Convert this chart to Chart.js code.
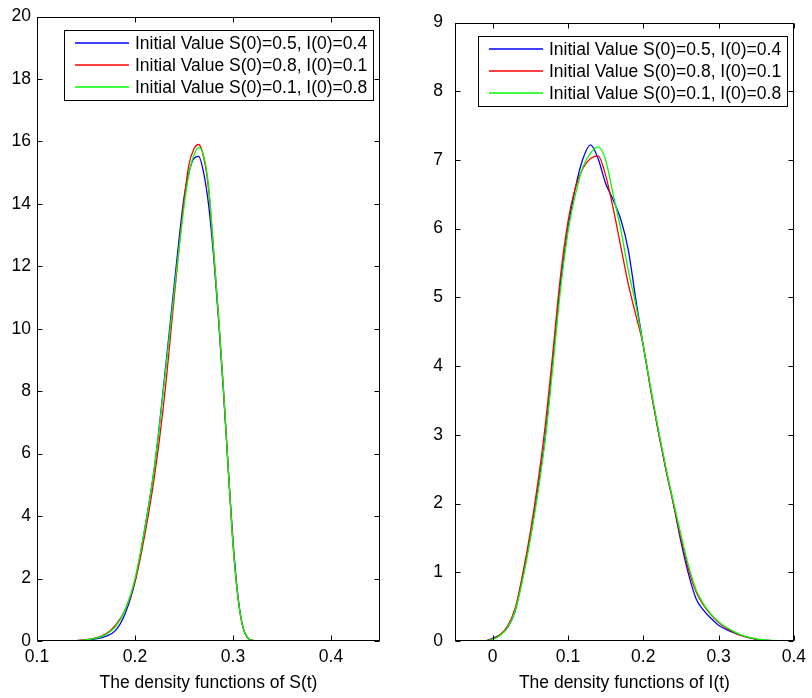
<!DOCTYPE html>
<html>
<head>
<meta charset="utf-8">
<script src="https://cdn.jsdelivr.net/npm/chart.js@4.4.1/dist/chart.umd.min.js"></script>
<style>
  html, body { margin: 0; padding: 0; background: #fff; }
  #wrap { position: relative; width: 812px; height: 698px; }
  canvas { position: absolute; top: 0; }
</style>
</head>
<body>
<div id="wrap">
  <canvas id="chart-s" width="406" height="698" style="left:0"></canvas>
  <canvas id="chart-i" width="406" height="698" style="left:406px"></canvas>
</div>
<script>
// legend labels, shared by both panels
const seriesLabels = [
  'Initial Value S(0)=0.5, I(0)=0.4',
  'Initial Value S(0)=0.8, I(0)=0.1',
  'Initial Value S(0)=0.1, I(0)=0.8'
];
const seriesColors = ['#0000ff', '#ff0000', '#00ff00'];

// left panel: density of S(t)
const sGrid  = [0.125, 0.13, 0.14, 0.15, 0.16, 0.17, 0.18, 0.19, 0.20, 0.21, 0.22, 0.23, 0.24, 0.25, 0.255, 0.26, 0.265, 0.27, 0.275, 0.28, 0.285, 0.29, 0.295, 0.30, 0.305, 0.31, 0.315, 0.32, 0.325];
const sBlue  = [0, 0.005, 0.01, 0.03, 0.07, 0.15, 0.33, 0.88, 1.9, 3.6, 5.6, 8.4, 11.4, 14.2, 15.0, 15.45, 15.52, 15.0, 14.0, 12.4, 10.4, 8.1, 5.6, 3.2, 1.45, 0.45, 0.1, 0.02, 0];
const sRed   = [0, 0.005, 0.01, 0.04, 0.1, 0.22, 0.5, 1.0, 1.9, 3.4, 5.3, 7.8, 11.0, 14.1, 15.25, 15.75, 15.9, 15.5, 14.5, 12.6, 10.5, 8.2, 5.6, 3.1, 1.4, 0.45, 0.1, 0.02, 0];
const sGreen = [0, 0.005, 0.01, 0.035, 0.09, 0.2, 0.45, 1.0, 2.0, 3.6, 5.6, 8.3, 11.2, 13.9, 14.95, 15.55, 15.8, 15.55, 14.6, 12.6, 10.5, 8.2, 5.6, 3.1, 1.4, 0.45, 0.1, 0.02, 0];
const sTicks = [0.1, 0.2, 0.3, 0.4];

// right panel: density of I(t)
const iGrid  = [-0.02, -0.01, 0, 0.01, 0.02, 0.03, 0.04, 0.05, 0.06, 0.07, 0.08, 0.09, 0.10, 0.11, 0.12, 0.13, 0.14, 0.15, 0.16, 0.17, 0.18, 0.19, 0.20, 0.21, 0.22, 0.23, 0.24, 0.25, 0.26, 0.27, 0.28, 0.29, 0.30, 0.31, 0.32, 0.33, 0.34, 0.35, 0.36, 0.37, 0.38, 0.39, 0.40];
const iBlue  = [0, 0.003, 0.04, 0.09, 0.2, 0.44, 0.95, 1.52, 2.2, 3.0, 4.1, 5.2, 6.0, 6.6, 7.02, 7.22, 7.02, 6.66, 6.42, 6.14, 5.7, 4.98, 4.3, 3.65, 3.05, 2.5, 2.0, 1.45, 0.98, 0.62, 0.45, 0.33, 0.23, 0.17, 0.12, 0.08, 0.05, 0.025, 0.012, 0.006, 0.004, 0.003, 0.002];
const iRed   = [0, 0.003, 0.03, 0.09, 0.22, 0.48, 0.98, 1.58, 2.3, 3.15, 4.2, 5.3, 6.1, 6.6, 6.88, 7.02, 7.06, 6.78, 6.3, 5.75, 5.2, 4.75, 4.3, 3.65, 3.05, 2.5, 2.0, 1.5, 1.05, 0.72, 0.52, 0.38, 0.27, 0.19, 0.13, 0.08, 0.05, 0.025, 0.012, 0.006, 0.004, 0.003, 0.002];
const iGreen = [0, 0.003, 0.025, 0.08, 0.2, 0.44, 0.9, 1.48, 2.15, 2.95, 4.0, 5.1, 5.95, 6.5, 6.9, 7.1, 7.19, 7.0, 6.5, 6.0, 5.4, 4.9, 4.3, 3.68, 3.08, 2.53, 2.03, 1.55, 1.1, 0.75, 0.54, 0.39, 0.28, 0.2, 0.14, 0.09, 0.055, 0.03, 0.015, 0.008, 0.005, 0.004, 0.003];
const iTicks = [0, 0.1, 0.2, 0.3, 0.4];

const FONT = '"Liberation Sans", Arial, Helvetica, sans-serif';
const FSIZE = 17.5;

// box around the plot, inward ticks on all four sides, and the boxed legend
const frameLegend = {
  id: 'frameLegend',
  afterDraw(chart) {
    const { ctx, chartArea: a, scales } = chart;
    const L = Math.round(a.left) + 0.5, R = Math.round(a.right) - 0.5;
    const T = Math.round(a.top) + 0.5, B = Math.round(a.bottom) - 0.5;
    const tl = 5;
    ctx.save();
    ctx.strokeStyle = '#000';
    ctx.lineWidth = 1;
    ctx.beginPath();
    scales.x.ticks.forEach(t => {
      const px = Math.round(scales.x.getPixelForValue(t.value)) + 0.5;
      ctx.moveTo(px, B); ctx.lineTo(px, B - tl);
      ctx.moveTo(px, T); ctx.lineTo(px, T + tl);
    });
    scales.y.ticks.forEach(t => {
      const py = Math.round(scales.y.getPixelForValue(t.value)) + 0.5;
      ctx.moveTo(L, py); ctx.lineTo(L + tl, py);
      ctx.moveTo(R, py); ctx.lineTo(R - tl, py);
    });
    ctx.stroke();
    ctx.strokeRect(L, T, R - L, B - T);

    // legend
    ctx.font = FSIZE + 'px ' + FONT;
    const textW = Math.max(...seriesLabels.map(s => ctx.measureText(s).width));
    const boxR = Math.round(a.right) - 7;
    const boxW = Math.round(71 + textW + 6);
    const boxL = boxR - boxW;
    const boxT = Math.round(a.top) + 13;
    const boxH = 70;
    ctx.fillStyle = '#fff';
    ctx.fillRect(boxL, boxT, boxW, boxH);
    ctx.strokeStyle = '#000';
    ctx.strokeRect(boxL + 0.5, boxT + 0.5, boxW, boxH);
    ctx.textBaseline = 'middle';
    ctx.textAlign = 'left';
    seriesLabels.forEach((lab, k) => {
      const y = boxT + 13 + k * 22;
      ctx.lineWidth = 1.5;
      ctx.strokeStyle = seriesColors[k];
      ctx.beginPath();
      ctx.moveTo(boxL + 11, y); ctx.lineTo(boxL + 65, y);
      ctx.stroke();
      ctx.fillStyle = '#000';
      ctx.fillText(lab, boxL + 71, y + 1);
    });
    ctx.restore();
  }
};

function makeDatasets(xs, seriesList) {
  const orders = [2, 1, 0]; // green drawn on top, then red, then blue
  return seriesList.map((ys, k) => ({
    label: seriesLabels[k],
    data: xs.map((x, i) => ({ x: x, y: ys[i] })),
    borderColor: seriesColors[k],
    borderWidth: 1.3,
    pointRadius: 0,
    fill: false,
    cubicInterpolationMode: 'monotone',
    order: orders[k]
  }));
}

function fmt(v) { return String(+Number(v).toFixed(2)); }

function makeChart(id, cfg) {
  const ctx = document.getElementById(id).getContext('2d');
  return new Chart(ctx, {
    type: 'line',
    data: { datasets: cfg.datasets },
    options: {
      responsive: false,
      animation: false,
      devicePixelRatio: 1,
      layout: { padding: { left: 0, top: 14, right: cfg.padRight, bottom: 0 } },
      plugins: { legend: { display: false }, tooltip: { enabled: false } },
      scales: {
        x: {
          type: 'linear',
          min: cfg.xMin, max: cfg.xMax,
          afterBuildTicks: s => { s.ticks = cfg.xTicks.map(v => ({ value: v })); },
          afterFit: s => { s.height = 57; },
          grid: { display: false, drawTicks: false },
          border: { display: false },
          ticks: {
            autoSkip: false, maxRotation: 0, padding: 6,
            color: '#000', font: { family: FONT, size: FSIZE },
            callback: v => fmt(v)
          },
          title: {
            display: true, text: cfg.xTitle, color: '#000',
            font: { family: FONT, size: FSIZE },
            padding: { top: 0, bottom: 4 }
          }
        },
        y: {
          min: 0, max: cfg.yMax,
          ticks: {
            stepSize: cfg.yStep, padding: cfg.yPad,
            color: '#000', font: { family: FONT, size: FSIZE },
            callback: v => fmt(v)
          },
          afterFit: s => { s.width = cfg.yWidth; },
          grid: { display: false, drawTicks: false },
          border: { display: false }
        }
      }
    },
    plugins: [frameLegend]
  });
}

makeChart('chart-s', {
  datasets: makeDatasets(sGrid, [sBlue, sRed, sGreen]),
  xMin: 0.1, xMax: 0.45, xTicks: sTicks,
  yMax: 20, yStep: 2, yWidth: 37, yPad: 6, padRight: 26,
  xTitle: 'The density functions of S(t)'
});

makeChart('chart-i', {
  datasets: makeDatasets(iGrid, [iBlue, iRed, iGreen]),
  xMin: -0.05, xMax: 0.4, xTicks: iTicks,
  yMax: 9, yStep: 1, yWidth: 49, yPad: 12, padRight: 13,
  xTitle: 'The density functions of I(t)'
});
</script>
</body>
</html>
